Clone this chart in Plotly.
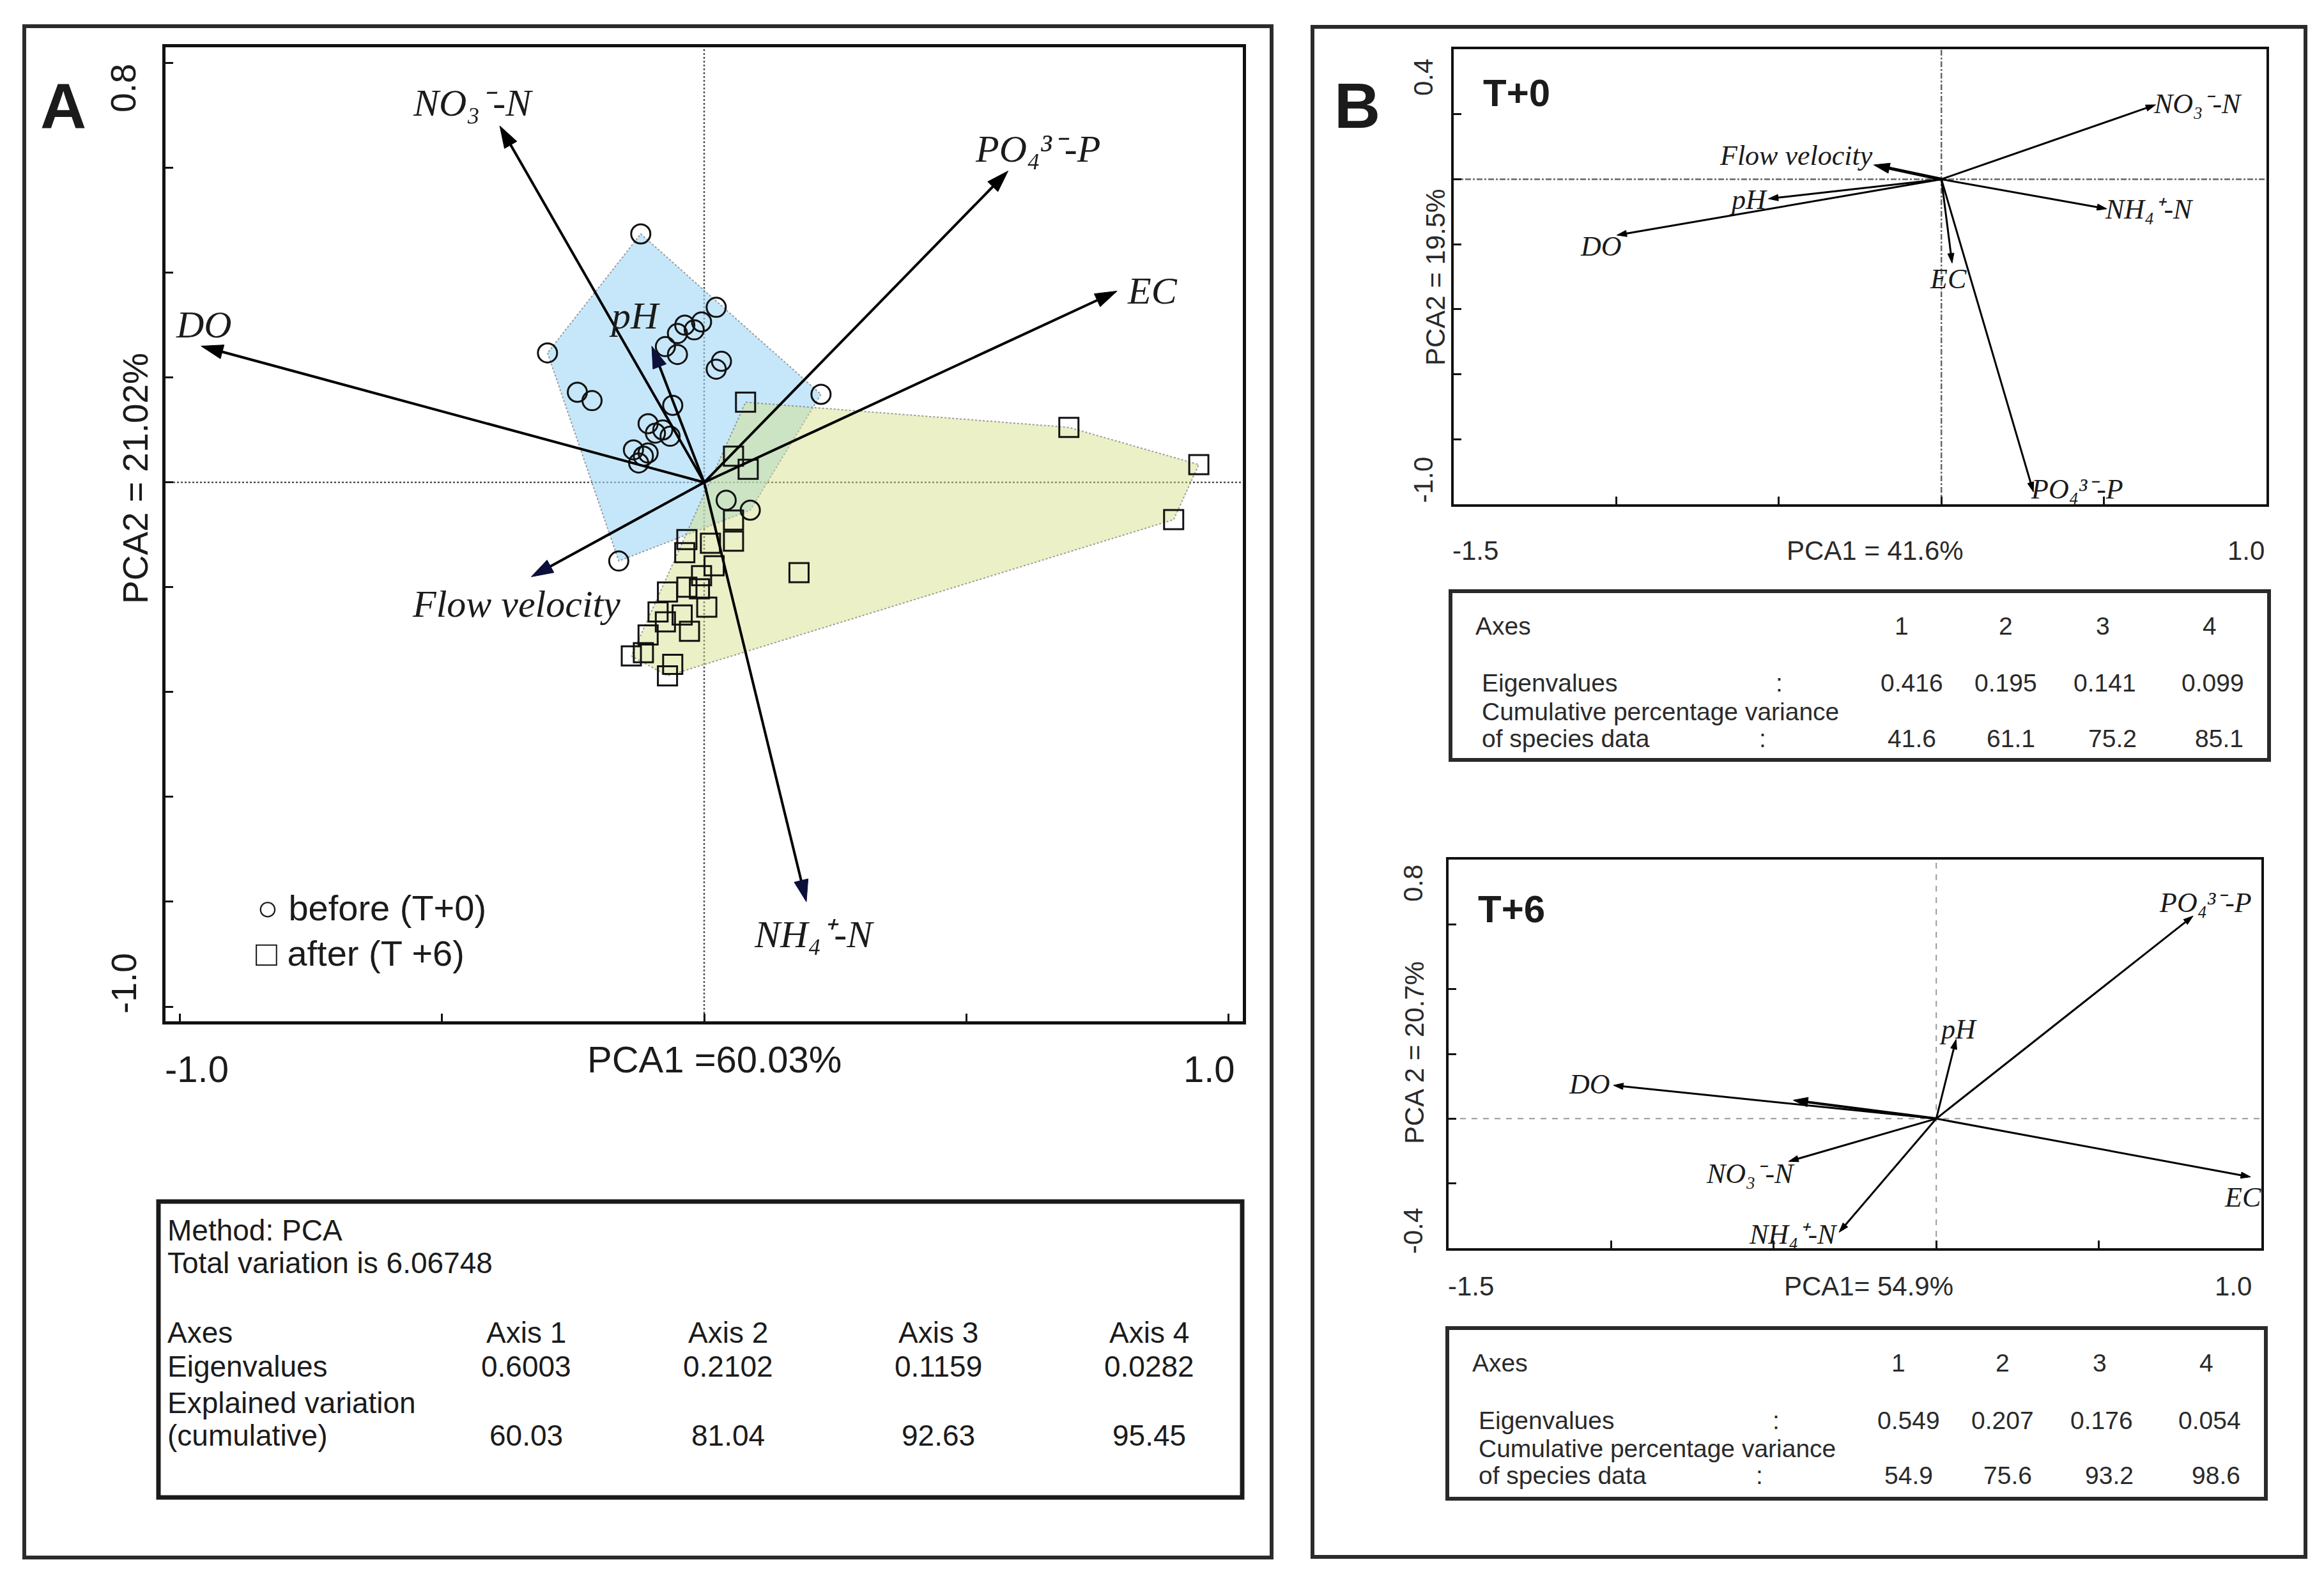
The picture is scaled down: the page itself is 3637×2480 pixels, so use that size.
import plotly.graph_objects as go

W, H = 3637, 2480

# ======================= DATA =======================
# Panel A - sample scores (before = T+0, circles; after = T+6, squares)
before_pc1 = [-0.121, -0.299, -0.242, -0.214, 0.023, -0.005, -0.037, -0.019, -0.051,
              -0.074, -0.051, 0.033, 0.023, 0.223, -0.060, -0.107, -0.079, -0.093,
              -0.065, -0.135, -0.107, -0.116, -0.125, 0.042, 0.088, -0.163]
before_pc2 = [0.474, 0.247, 0.172, 0.156, 0.334, 0.306, 0.300, 0.291, 0.284,
              0.259, 0.244, 0.231, 0.216, 0.168, 0.147, 0.112, 0.100, 0.094,
              0.088, 0.062, 0.056, 0.050, 0.037, -0.034, -0.053, -0.150]
after_pc1 = [0.079, 0.056, 0.084, 0.056, 0.056, 0.012, -0.033, -0.037, 0.019,
             -0.005, -0.033, -0.009, -0.070, 0.005, -0.088, -0.042, -0.074, -0.028,
             -0.107, -0.116, -0.139, -0.060, -0.070, 0.181, 0.696, 0.944, 0.896]
after_pc2 = [0.153, 0.050, 0.025, -0.072, -0.112, -0.116, -0.109, -0.134, -0.159,
             -0.178, -0.200, -0.203, -0.209, -0.238, -0.247, -0.253, -0.266, -0.284,
             -0.291, -0.325, -0.331, -0.347, -0.369, -0.172, 0.105, 0.034, -0.071]

# Panel A - environmental variables (arrow tips)
envA_names = ["NO3", "PO4", "EC", "DO", "pH", "Flow", "NH4"]
envA_pc1 = [-0.39, 0.58, 0.788, -0.96, -0.10, -0.33, 0.195]
envA_pc2 = [0.68, 0.594, 0.365, 0.26, 0.26, -0.18, -0.80]

# Panel B, T+0
envB0_names = ["NO3", "Flow", "pH", "DO", "NH4", "EC", "PO4"]
envB0_pc1 = [0.659, -0.208, -0.532, -0.998, 0.509, 0.033, 0.283]
envB0_pc2 = [0.229, 0.044, -0.060, -0.172, -0.091, -0.258, -0.962]

# Panel B, T+6
envB6_names = ["PO4", "pH", "DO", "Flow", "NO3", "NH4", "EC"]
envB6_pc1 = [0.790, 0.061, -0.993, -0.440, -0.454, -0.299, 0.967]
envB6_pc2 = [0.626, 0.245, 0.103, 0.057, -0.132, -0.351, -0.180]

# Tables
tableA_axes = ["Axis 1", "Axis 2", "Axis 3", "Axis 4"]
tableA_eigen = [0.6003, 0.2102, 0.1159, 0.0282]
tableA_cumvar = [60.03, 81.04, 92.63, 95.45]
total_variation = "6.06748"

tableB_axes = ["1", "2", "3", "4"]
tableB0_eigen = [0.416, 0.195, 0.141, 0.099]
tableB0_cumvar = [41.6, 61.1, 75.2, 85.1]
tableB6_eigen = [0.549, 0.207, 0.176, 0.054]
tableB6_cumvar = [54.9, 75.6, 93.2, 98.6]

var_labels = {
    "NO3": "NO₃⁻-N",
    "PO4": "PO₄³⁻-P",
    "NH4": "NH₄⁺-N",
    "EC": "EC",
    "DO": "DO",
    "pH": "pH",
    "Flow": "Flow velocity",
}

# ======================= STYLE / LAYOUT =======================
SANS = "Liberation Sans, Arial, sans-serif"
SERIF = "Liberation Serif, Times New Roman, serif"
TXT = "#1b1b1b"


def px(x):
    return x / W


def py(y):
    return 1 - y / H


# label offsets (xshift, yshift in px) relative to arrow tips
offA = {"NO3": (-42, 36), "PO4": (46, 35), "EC": (55, 0), "DO": (4, 34),
        "pH": (-27, 48), "Flow": (-23, -43), "NH4": (12, -51)}
offB0 = {"NO3": (66, 1), "Flow": (-121, 15), "pH": (-31, -2), "DO": (-25, -18),
         "NH4": (66, -1), "EC": (-6, -25), "PO4": (68, 4)}
offB6 = {"PO4": (19, 21), "pH": (3, 16), "DO": (-37, 2), "NO3": (-60, -19),
         "NH4": (-72, -3), "EC": (-12, -32)}


def convex_hull(xs, ys):
    pts = sorted(set(zip(xs, ys)))
    if len(pts) < 3:
        return pts

    def cross(o, a, b):
        return (a[0] - o[0]) * (b[1] - o[1]) - (a[1] - o[1]) * (b[0] - o[0])

    lower, upper = [], []
    for p in pts:
        while len(lower) >= 2 and cross(lower[-2], lower[-1], p) <= 0:
            lower.pop()
        lower.append(p)
    for p in reversed(pts):
        while len(upper) >= 2 and cross(upper[-2], upper[-1], p) <= 0:
            upper.pop()
        upper.append(p)
    return lower[:-1] + upper[:-1]


fig = go.Figure()

# ---- Panel A hulls ----
for xs, ys, fillc in [(before_pc1, before_pc2, "rgba(160,215,245,0.6)"),
                      (after_pc1, after_pc2, "rgba(210,222,130,0.45)")]:
    hull = convex_hull(xs, ys)
    hx = [p[0] for p in hull] + [hull[0][0]]
    hy = [p[1] for p in hull] + [hull[0][1]]
    fig.add_trace(go.Scatter(x=hx, y=hy, mode="lines", fill="toself", fillcolor=fillc,
                             line=dict(color="rgba(120,120,120,0.7)", width=2, dash="dot"),
                             hoverinfo="skip", showlegend=False, xaxis="x", yaxis="y"))

# ---- Panel A samples ----
fig.add_trace(go.Scatter(x=before_pc1, y=before_pc2, mode="markers", name="before (T+0)",
                         marker=dict(symbol="circle-open", size=30, color="#111",
                                     line=dict(width=3, color="#111")),
                         hoverinfo="skip", showlegend=False, xaxis="x", yaxis="y"))
fig.add_trace(go.Scatter(x=after_pc1, y=after_pc2, mode="markers", name="after (T +6)",
                         marker=dict(symbol="square-open", size=30, color="#111",
                                     line=dict(width=3, color="#111")),
                         hoverinfo="skip", showlegend=False, xaxis="x", yaxis="y"))


def arrow(x, y, xa, ya, lw, size, color="#000", headcolor=None):
    return go.Scatter(x=[0, x], y=[0, y], xaxis=xa, yaxis=ya, mode="lines+markers",
                      line=dict(color=color, width=lw),
                      marker=dict(symbol="arrow", size=[0, size], angleref="previous",
                                  color=headcolor or color, opacity=1,
                                  line=dict(width=1, color=headcolor or color)),
                      hoverinfo="skip", showlegend=False)


annotations = []


def lab(name, x, y, xa, ya, off, size):
    annotations.append(dict(text=var_labels[name], x=x, y=y, xref=xa, yref=ya,
                            showarrow=False, xanchor="center", yanchor="middle",
                            xshift=off[0], yshift=off[1],
                            font=dict(family=SERIF, size=size, color=TXT, style="italic")))


navy = {"NH4", "Flow", "pH"}
for n, x, y in zip(envA_names, envA_pc1, envA_pc2):
    fig.add_trace(arrow(x, y, "x", "y", 4, 36, headcolor="#0b0f3a" if n in navy else "#000"))
    lab(n, x, y, "x", "y", offA[n], 60)

for n, x, y in zip(envB0_names, envB0_pc1, envB0_pc2):
    if n == "Flow":
        fig.add_trace(arrow(x, y, "x2", "y2", 5, 26))
    else:
        fig.add_trace(arrow(x, y, "x2", "y2", 3, 16))
    lab(n, x, y, "x2", "y2", offB0[n], 44)

for n, x, y in zip(envB6_names, envB6_pc1, envB6_pc2):
    if n == "Flow":
        fig.add_trace(arrow(x, y, "x3", "y3", 4, 24))
    else:
        fig.add_trace(arrow(x, y, "x3", "y3", 3, 16))
        lab(n, x, y, "x3", "y3", offB6[n], 44)


# ---- free text ----
def txt(s, x, y, size, xanchor="center", angle=0, bold=False, color=TXT, family=SANS):
    annotations.append(dict(text=s, x=px(x), y=py(y), xref="paper", yref="paper",
                            xanchor=xanchor, yanchor="middle", showarrow=False,
                            textangle=angle,
                            font=dict(family=family, size=size, color=color,
                                      weight="bold" if bold else "normal")))


# Panel A
txt("A", 91, 158, 100, bold=True)
txt("0.8", 185, 130, 55, angle=-90)
txt("-1.0", 186, 1531, 55, angle=-90)
txt("PCA2 = 21.02%", 204, 741, 55, angle=-90)
txt("-1.0", 300, 1664, 58)
txt("1.0", 1885, 1664, 58)
txt("PCA1 =60.03%", 1110, 1649, 58)
txt("○ before (T+0)", 392, 1413, 56, xanchor="left")
txt("□ after (T +6)", 390, 1483, 56, xanchor="left")

# Table A
colsA = [815, 1131, 1460, 1790]
txt("Method: PCA", 252, 1917, 46, xanchor="left")
txt("Total variation is " + total_variation, 252, 1968, 46, xanchor="left")
txt("Axes", 252, 2077, 46, xanchor="left")
txt("Eigenvalues", 252, 2130, 46, xanchor="left")
txt("Explained variation", 252, 2187, 46, xanchor="left")
txt("(cumulative)", 252, 2238, 46, xanchor="left")
for cx, h, e, c in zip(colsA, tableA_axes, tableA_eigen, tableA_cumvar):
    txt(h, cx, 2077, 46)
    txt(f"{e:.4f}", cx, 2130, 46)
    txt(f"{c:.2f}", cx, 2238, 46)

# Panel B
txt("B", 2116, 157, 100, bold=True)
txt("T+0", 2365, 137, 60, bold=True)
txt("T+6", 2357, 1414, 60, bold=True)
GREY = "#2a2a2a"
txt("0.4", 2220, 113, 42, angle=-90, color=GREY)
txt("-1.0", 2220, 743, 42, angle=-90, color=GREY)
txt("PCA2 = 19.5%", 2239, 426, 42, angle=-90, color=GREY)
txt("-1.5", 2301, 853, 42, color=GREY)
txt("1.0", 3507, 853, 42, color=GREY)
txt("PCA1 = 41.6%", 2926, 853, 42, color=GREY)

txt("0.8", 2203, 1374, 42, angle=-90, color=GREY)
txt("-0.4", 2203, 1918, 42, angle=-90, color=GREY)
txt("PCA 2 = 20.7%", 2205, 1639, 42, angle=-90, color=GREY)
txt("-1.5", 2294, 2004, 42, color=GREY)
txt("1.0", 3487, 2004, 42, color=GREY)
txt("PCA1= 54.9%", 2916, 2004, 42, color=GREY)


def table_b(bx, by, eig, cum):
    fs = 39
    txt("Axes", bx + 37, by + 54, fs, xanchor="left", color=GREY)
    for dx, h in zip([706, 869, 1021, 1188], tableB_axes):
        txt(h, bx + dx, by + 54, fs, color=GREY)
    txt("Eigenvalues", bx + 47, by + 144, fs, xanchor="left", color=GREY)
    txt(":", bx + 514, by + 144, fs, color=GREY)
    for dx, v in zip([722, 869, 1024, 1193], eig):
        txt(f"{v:.3f}", bx + dx, by + 144, fs, color=GREY)
    txt("Cumulative percentage variance", bx + 47, by + 188, fs, xanchor="left", color=GREY)
    txt("of species data", bx + 47, by + 230, fs, xanchor="left", color=GREY)
    txt(":", bx + 488, by + 230, fs, color=GREY)
    for dx, v in zip([722, 877, 1036, 1203], cum):
        txt(f"{v:.1f}", bx + dx, by + 230, fs, color=GREY)


table_b(2262, 917, tableB0_eigen, tableB0_cumvar)
table_b(2257, 2070, tableB6_eigen, tableB6_cumvar)

# ---- shapes ----
shapes = []


def rect(x0, y0, x1, y1, lw, color="#2b2b2b"):
    shapes.append(dict(type="rect", xref="paper", yref="paper", x0=px(x0), x1=px(x1),
                       y0=py(y1), y1=py(y0), line=dict(color=color, width=lw),
                       fillcolor="rgba(0,0,0,0)", layer="above"))


rect(30, 33, 1982, 2429, 6)
rect(2046, 34, 3600, 2428, 6)
rect(240, 1872, 1936, 2335, 7, "#1a1a1a")
rect(2262, 917, 3543, 1181, 6, "#2a2a2a")
rect(2257, 2070, 3538, 2337, 6, "#2a2a2a")

for xa, ya, dash, col, lw in [("x", "y", "dot", "#555", 2.5),
                              ("x2", "y2", "dashdot", "#666", 2.5),
                              ("x3", "y3", "dash", "#999", 2)]:
    shapes.append(dict(type="line", xref=f"{xa} domain", x0=0, x1=1, yref=ya, y0=0, y1=0,
                       line=dict(color=col, width=lw, dash=dash), layer="below"))
    shapes.append(dict(type="line", xref=xa, x0=0, x1=0, yref=f"{ya} domain", y0=0, y1=1,
                       line=dict(color=col, width=lw, dash=dash), layer="below"))


def ax(dom, rng, tickvals, anchor, lw, horizontal=True):
    d = dict(range=rng, showline=True, mirror=True, linecolor="#111", linewidth=lw,
             ticks="inside", ticklen=12, tickwidth=3, tickcolor="#111", tickvals=tickvals,
             showticklabels=False, showgrid=False, zeroline=False, fixedrange=True,
             anchor=anchor)
    d["domain"] = [px(dom[0]), px(dom[1])] if horizontal else [py(dom[1]), py(dom[0])]
    return d


ticksA_x = [-1.0, -0.5, 0.0, 0.5, 1.0]
ticksA_y = [round(-1.0 + 0.2 * i, 1) for i in range(10)]
ticksB_x = [-1.5, -1.0, -0.5, 0.0, 0.5, 1.0]
ticksB0_y = [round(-1.0 + 0.2 * i, 1) for i in range(8)]
ticksB6_y = [round(-0.4 + 0.2 * i, 1) for i in range(7)]

fig.update_layout(
    width=W, height=H, autosize=False,
    margin=dict(l=0, r=0, t=0, b=0),
    paper_bgcolor="white", plot_bgcolor="white",
    showlegend=False, hovermode=False,
    xaxis=ax((251, 1937), [-1.028, 1.028], ticksA_x, "y", 5),
    yaxis=ax((66, 1590), [-1.028, 0.830], ticksA_y, "x", 5, horizontal=False),
    xaxis2=ax((2267, 3539), [-1.5, 1.0], ticksB_x, "y2", 4),
    yaxis2=ax((69, 781), [-1.0, 0.4], ticksB0_y, "x2", 4, horizontal=False),
    xaxis3=ax((2259, 3531), [-1.5, 1.0], ticksB_x, "y3", 4),
    yaxis3=ax((1337, 1945), [-0.4, 0.8], ticksB6_y, "x3", 4, horizontal=False),
    annotations=annotations,
    shapes=shapes,
)

fig.write_html("out.html")
